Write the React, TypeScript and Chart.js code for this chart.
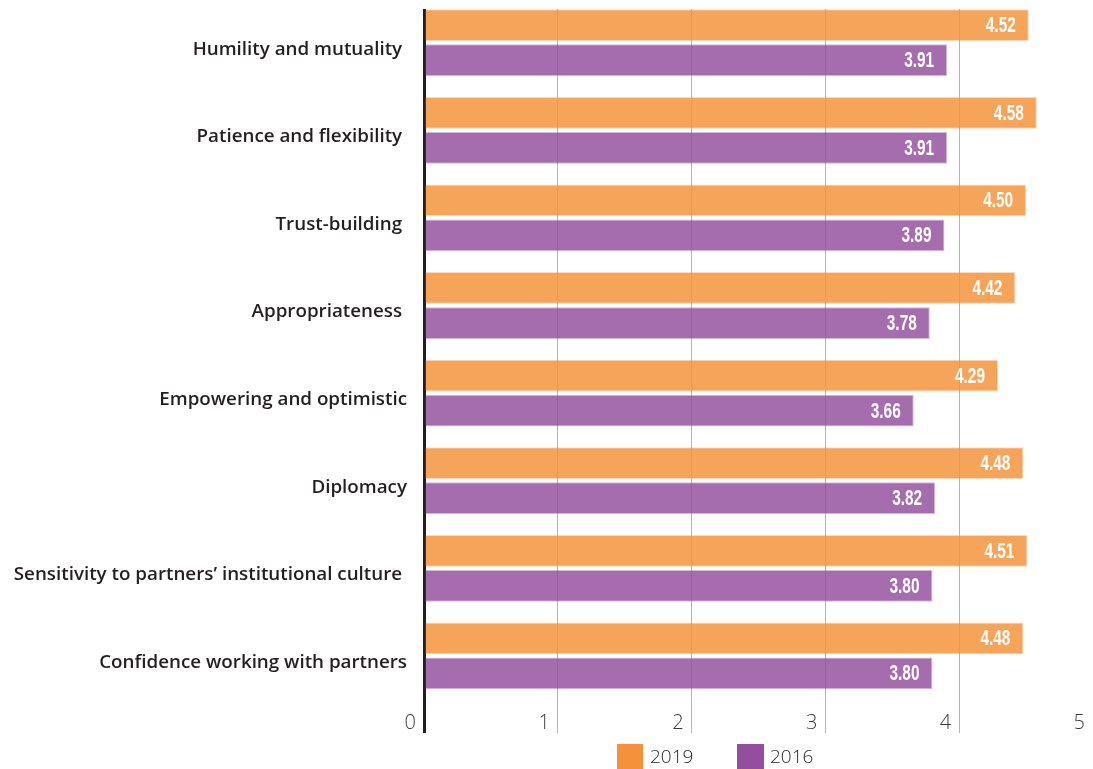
import { useEffect, useRef } from "react";
import { Chart, registerables } from "chart.js";

Chart.register(...registerables);

// Competency labels, top to bottom (trailing spaces kept as in the source labels)
const categories = [
  "Humility and mutuality ",
  "Patience and flexibility ",
  "Trust-building ",
  "Appropriateness ",
  "Empowering and optimistic",
  "Diplomacy",
  "Sensitivity to partners’ institutional culture ",
  "Confidence working with partners",
];

const seriesNames = ["2019", "2016"];
const values2019 = [4.52, 4.58, 4.5, 4.42, 4.29, 4.48, 4.51, 4.48];
const values2016 = [3.91, 3.91, 3.89, 3.78, 3.66, 3.82, 3.8, 3.8];

const xMin = 0;
const xMax = 5;
// index-axis window: a little room above the first group and below the last
const yMin = -0.3847;
const yMax = 7.629;

const ORANGE = "#F5913A";
const PURPLE = "#934F9E";
const ORANGE_BAR = "rgba(245,145,58,0.83)";
const PURPLE_BAR = "rgba(147,79,158,0.83)";

// White condensed value labels at the inner end of every bar
const valueLabels = {
  id: "valueLabels",
  afterDatasetsDraw(chart: any) {
    const { ctx } = chart;
    ctx.save();
    ctx.fillStyle = "#ffffff";
    ctx.font = "bold 22px 'Liberation Sans', Arial, sans-serif";
    ctx.textAlign = "right";
    ctx.textBaseline = "middle";
    chart.data.datasets.forEach((ds: any, di: number) => {
      const meta = chart.getDatasetMeta(di);
      meta.data.forEach((bar: any, i: number) => {
        const v = ds.data[i].x as number;
        ctx.save();
        ctx.translate(bar.x - 13, bar.y + 1);
        ctx.scale(0.7, 1);
        ctx.fillText(v.toFixed(2), 0, 0);
        ctx.restore();
      });
    });
    ctx.restore();
  },
};

export default function App() {
  const canvasRef = useRef<HTMLCanvasElement | null>(null);

  useEffect(() => {
    const canvas = canvasRef.current;
    if (!canvas) return;
    const chart = new Chart(canvas, {
      type: "bar",
      data: {
        datasets: [
          {
            label: seriesNames[0],
            data: values2019.map((v, i) => ({ x: v, y: i })),
            backgroundColor: ORANGE_BAR,
            borderColor: "rgba(245,145,58,0.35)",
            borderWidth: 1,
          },
          {
            label: seriesNames[1],
            data: values2016.map((v, i) => ({ x: v, y: i })),
            backgroundColor: PURPLE_BAR,
            borderColor: "rgba(147,79,158,0.4)",
            borderWidth: 1,
          },
        ],
      },
      options: {
        indexAxis: "y",
        animation: false,
        responsive: false,
        maintainAspectRatio: false,
        layout: { padding: { top: 9, right: 0, bottom: 0, left: 0 } },
        plugins: {
          legend: { display: false },
          tooltip: { enabled: false },
        },
        datasets: {
          bar: { categoryPercentage: 0.8, barPercentage: 0.905 },
        },
        scales: {
          x: {
            type: "linear",
            position: "bottom",
            min: xMin,
            max: xMax,
            afterFit: (s: any) => {
              s.height = 58;
              s.paddingLeft = 0;
              s.paddingRight = 0;
            },
            border: { display: false },
            grid: {
              drawTicks: true,
              tickLength: 22,
              color: (c: any) =>
                c.tick && c.tick.value === xMin
                  ? "#231f20"
                  : c.tick && c.tick.value === xMax
                  ? "rgba(0,0,0,0)"
                  : "#b5b5b5",
              lineWidth: (c: any) => (c.tick && c.tick.value === xMin ? 3 : 1),
            },
            ticks: {
              stepSize: 1,
              align: "end",
              labelOffset: -8,
              padding: -22,
              color: "#3a3a3a",
              font: { family: "'Open Sans', sans-serif", size: 20, weight: "300" },
            },
          },
          y: {
            type: "linear",
            reverse: true,
            offset: false,
            min: yMin,
            max: yMax,
            afterBuildTicks: (s: any) => {
              s.ticks = categories.map((_, i) => ({ value: i }));
              s.min = yMin;
              s.max = yMax;
            },
            afterFit: (s: any) => {
              s.width = 424;
              s.paddingTop = 0;
              s.paddingBottom = 0;
            },
            border: { display: false },
            grid: { display: false, drawTicks: false, offset: false },
            ticks: {
              padding: 17,
              labelOffset: 6.5,
              color: "#231f20",
              font: { family: "'Open Sans', sans-serif", size: 18.8, weight: "600" },
              callback: (v: any) => categories[v as number] ?? "",
            },
          },
        },
      },
      plugins: [valueLabels],
    } as any);
    return () => chart.destroy();
  }, []);

  const legendText: React.CSSProperties = {
    position: "absolute",
    fontFamily: "'Open Sans', sans-serif",
    fontWeight: 300,
    fontSize: 19,
    color: "#231f20",
    lineHeight: "25px",
    top: 744,
  };

  return (
    <div style={{ position: "fixed", left: 0, top: 0, width: 1093, height: 769, background: "#fff" }}>
      <canvas ref={canvasRef} width={1093} height={769} style={{ display: "block" }} />
      <div style={{ position: "absolute", left: 617, top: 744, width: 26, height: 25, background: ORANGE }} />
      <div style={{ ...legendText, left: 650 }}>{seriesNames[0]}</div>
      <div style={{ position: "absolute", left: 737, top: 744, width: 27, height: 25, background: PURPLE }} />
      <div style={{ ...legendText, left: 770 }}>{seriesNames[1]}</div>
    </div>
  );
}
